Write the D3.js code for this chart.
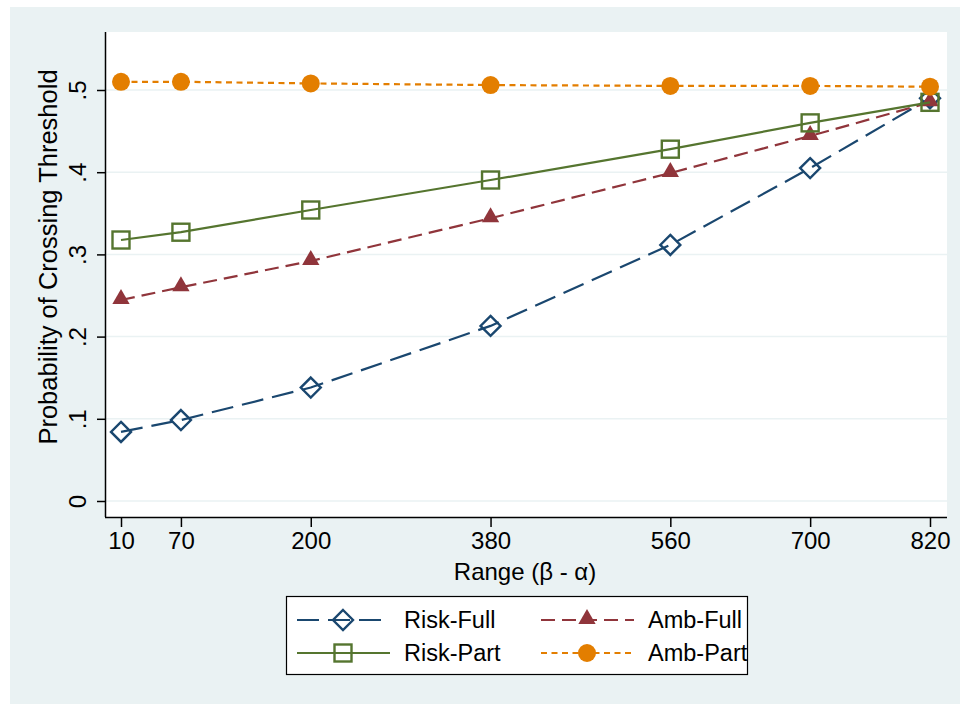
<!DOCTYPE html>
<html>
<head>
<meta charset="utf-8">
<script src="https://cdn.jsdelivr.net/npm/d3@7"></script>
<style>
  body { margin: 0; background: #fff; }
  text { font-family: "Liberation Sans", Arial, sans-serif; fill: #000; }
</style>
</head>
<body>
<div id="chart"></div>
<script>
// Chart data
var ranges = [10, 70, 200, 380, 560, 700, 820];
var riskFull = [0.084, 0.0985, 0.138, 0.213, 0.3115, 0.405, 0.49];
var ambFull = [0.2445, 0.26, 0.292, 0.344, 0.399, 0.444, 0.485];
var riskPart = [0.3175, 0.327, 0.354, 0.3905, 0.428, 0.46, 0.485];
var ambPart = [0.51, 0.51, 0.508, 0.506, 0.505, 0.505, 0.504];
var yTicks = [0, 0.1, 0.2, 0.3, 0.4, 0.5];
var yTickLabels = ["0", ".1", ".2", ".3", ".4", ".5"];
var seriesNames = ["Risk-Full", "Amb-Full", "Risk-Part", "Amb-Part"];

var w = 960;
var h = 704;

var series = [
  { name: seriesNames[0], values: riskFull, color: "#1a476f", dash: "22,9", marker: "diamond" },
  { name: seriesNames[1], values: ambFull, color: "#90353b", dash: "14,7", marker: "triangle" },
  { name: seriesNames[2], values: riskPart, color: "#55752f", dash: null, marker: "square" },
  { name: seriesNames[3], values: ambPart, color: "#e37e00", dash: "6,4.5", marker: "circle" }
];

var xScale = d3.scaleLinear()
  .domain([10, 820])
  .range([121, 930]);

var yScale = d3.scaleLinear()
  .domain([0, 0.5])
  .range([501, 90]);

var svg = d3.select("#chart")
  .append("svg")
  .attr("width", w)
  .attr("height", h);

// graph region + plot region
svg.append("rect")
  .attr("x", 10).attr("y", 7)
  .attr("width", w - 10).attr("height", h - 7)
  .attr("fill", "#eaf2f3");

svg.append("rect")
  .attr("x", 105).attr("y", 32)
  .attr("width", 842).attr("height", 485)
  .attr("fill", "#fff");

// gridlines
svg.selectAll(".grid")
  .data(yTicks)
  .enter().append("line")
  .attr("x1", 105).attr("x2", 947)
  .attr("y1", function(d) { return yScale(d); })
  .attr("y2", function(d) { return yScale(d); })
  .attr("stroke", "#eaf2f3")
  .attr("stroke-width", 1.5);

// axes
var xAxis = d3.axisBottom(xScale)
  .tickValues(ranges)
  .tickSize(10)
  .tickPadding(5)
  .tickFormat(d3.format("d"));

var yAxis = d3.axisLeft(yScale)
  .tickValues(yTicks)
  .tickSize(8)
  .tickFormat(function(d, i) { return yTickLabels[i]; });

var gx = svg.append("g")
  .attr("transform", "translate(0,517)")
  .call(xAxis);
gx.select(".domain").attr("d", "M105,0.5H947");
gx.selectAll("text").attr("font-size", 24).attr("font-family", "Liberation Sans").attr("fill", "#000");

var gy = svg.append("g")
  .attr("transform", "translate(105,0)")
  .call(yAxis);
gy.select(".domain").attr("d", "M0.5,32V517");
gy.selectAll("text")
  .attr("font-size", 24)
  .attr("font-family", "Liberation Sans")
  .attr("fill", "#000")
  .attr("x", null).attr("dy", null)
  .attr("text-anchor", "middle")
  .attr("transform", "translate(-19,0) rotate(-90)");

svg.selectAll(".domain, .tick line").attr("stroke", "#000").attr("stroke-width", 1.5);

// axis titles
svg.append("text")
  .attr("x", 525).attr("y", 580)
  .attr("text-anchor", "middle")
  .attr("font-size", 24)
  .text("Range (\u03b2 - \u03b1)");

svg.append("text")
  .attr("transform", "translate(57,257) rotate(-90)")
  .attr("text-anchor", "middle")
  .attr("font-size", 25.5)
  .text("Probability of Crossing Threshold");

// markers
function drawMarker(g, type, color, x, y) {
  if (type === "diamond") {
    g.append("path")
      .attr("d", "M0,-10L10,0L0,10L-10,0Z")
      .attr("transform", "translate(" + x + "," + y + ")")
      .attr("fill", "none").attr("stroke", color).attr("stroke-width", 2.4);
  } else if (type === "square") {
    g.append("rect")
      .attr("x", x - 8.5).attr("y", y - 8.5)
      .attr("width", 17).attr("height", 17)
      .attr("fill", "none").attr("stroke", color).attr("stroke-width", 2.4);
  } else if (type === "triangle") {
    g.append("path")
      .attr("d", d3.symbol(d3.symbolTriangle, 130)())
      .attr("transform", "translate(" + x + "," + (y - 1) + ")")
      .attr("fill", color);
  } else {
    g.append("circle")
      .attr("cx", x).attr("cy", y).attr("r", 9)
      .attr("fill", color);
  }
}

var line = d3.line()
  .x(function(d, i) { return xScale(ranges[i]); })
  .y(function(d) { return yScale(d); });

// draw in series order: first series at the bottom
series.forEach(function(s) {
  var g = svg.append("g");
  g.append("path")
    .datum(s.values)
    .attr("d", line)
    .attr("fill", "none")
    .attr("stroke", s.color)
    .attr("stroke-width", 2.2)
    .attr("stroke-dasharray", s.dash);
  s.values.forEach(function(v, i) {
    drawMarker(g, s.marker, s.color, xScale(ranges[i]), yScale(v));
  });
});

// legend
var legend = svg.append("g");
legend.append("rect")
  .attr("x", 286.5).attr("y", 596.5)
  .attr("width", 461).attr("height", 78)
  .attr("fill", "#fff").attr("stroke", "#000").attr("stroke-width", 1.2);

var legendPos = [
  { x: 297, y: 620 }, { x: 541, y: 620 },
  { x: 297, y: 653 }, { x: 541, y: 653 }
];

series.forEach(function(s, i) {
  var p = legendPos[i];
  legend.append("line")
    .attr("x1", p.x).attr("x2", p.x + 93)
    .attr("y1", p.y).attr("y2", p.y)
    .attr("stroke", s.color).attr("stroke-width", 2.2)
    .attr("stroke-dasharray", s.dash);
  drawMarker(legend, s.marker, s.color, p.x + 46, p.y);
  legend.append("text")
    .attr("x", p.x + 107).attr("y", p.y + 8)
    .attr("font-size", 23.5)
    .text(s.name);
});
</script>
</body>
</html>
